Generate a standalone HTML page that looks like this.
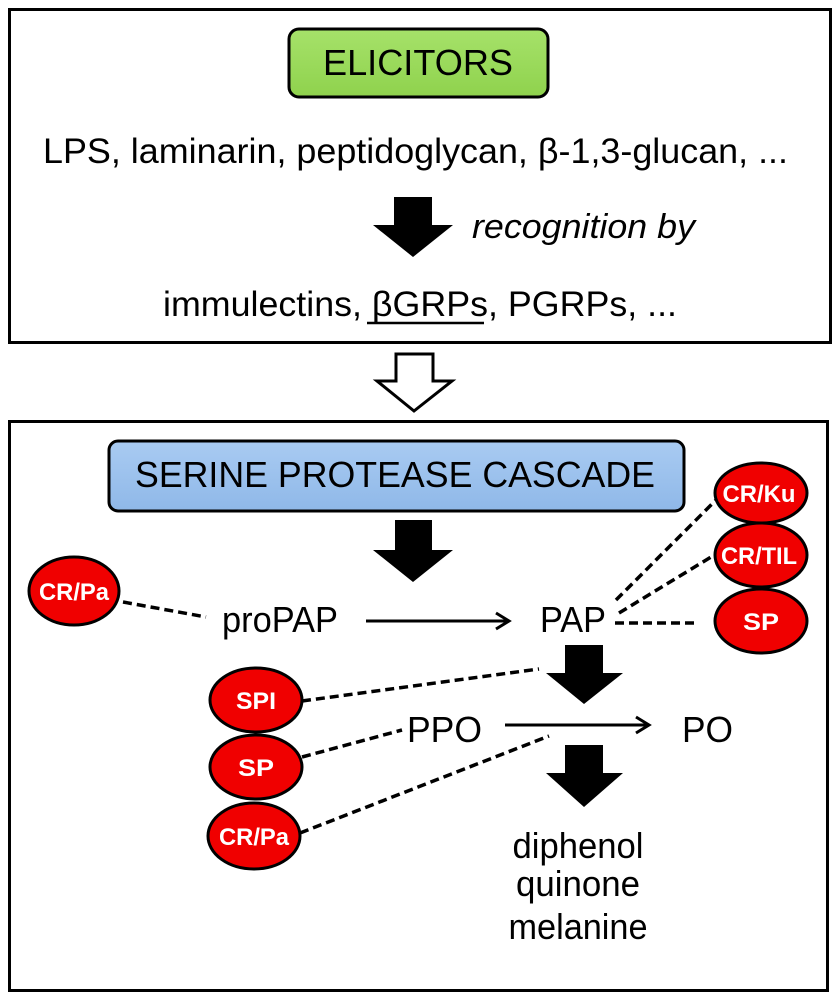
<!DOCTYPE html>
<html><head><meta charset="utf-8"><style>html,body{margin:0;padding:0;background:#fff}svg{display:block}</style></head>
<body>
<svg width="836" height="1000" viewBox="0 0 836 1000" xmlns="http://www.w3.org/2000/svg" font-family="Liberation Sans, Arial, sans-serif">
<defs>
<linearGradient id="g" x1="0" y1="0" x2="0" y2="1"><stop offset="0" stop-color="#a6e26a"/><stop offset="1" stop-color="#8fd24d"/></linearGradient>
<linearGradient id="b" x1="0" y1="0" x2="0" y2="1"><stop offset="0" stop-color="#a9cbf2"/><stop offset="1" stop-color="#8fb8e8"/></linearGradient>
</defs>
<rect x="9.5" y="9.5" width="821" height="333" fill="#fff" stroke="#000" stroke-width="3"/>
<rect x="289" y="29" width="259" height="68" rx="10" fill="url(#g)" stroke="#000" stroke-width="3"/>
<text x="418" y="75" font-size="36" text-anchor="middle" textLength="190" lengthAdjust="spacingAndGlyphs">ELICITORS</text>
<text x="43" y="163" font-size="35" textLength="745" lengthAdjust="spacingAndGlyphs">LPS, laminarin, peptidoglycan,  β-1,3-glucan, ...</text>
<polygon points="394,197 432,197 432,225 453,225 413,257 373,225 394,225" fill="#000"/>
<text x="472" y="238" font-size="34" font-style="italic" textLength="223" lengthAdjust="spacingAndGlyphs">recognition by</text>
<text x="163" y="316" font-size="35" textLength="514" lengthAdjust="spacingAndGlyphs">immulectins, βGRPs, PGRPs, ...</text>
<line x1="367" y1="323" x2="484" y2="323" stroke="#000" stroke-width="2.5"/>
<polygon points="396,354 433,354 433,381 452,381 414,411 377,381 396,381" fill="#fff" stroke="#000" stroke-width="3"/>
<rect x="9.5" y="421.5" width="818" height="569" fill="#fff" stroke="#000" stroke-width="3"/>
<rect x="109" y="441" width="575" height="70" rx="9" fill="url(#b)" stroke="#000" stroke-width="3"/>
<text x="395" y="487" font-size="36" text-anchor="middle" textLength="520" lengthAdjust="spacingAndGlyphs">SERINE PROTEASE CASCADE</text>
<polygon points="395,520 432,520 432,550 453,550 413,582 373,550 395,550" fill="#000"/>
<g stroke="#000" stroke-width="3.5" stroke-dasharray="9,5" fill="none">
<line x1="123" y1="602" x2="206" y2="617"/>
<line x1="616" y1="600" x2="716" y2="500"/>
<line x1="619" y1="613" x2="716" y2="554"/>
<line x1="615" y1="623" x2="697" y2="623"/>
<line x1="302" y1="701" x2="539" y2="669"/>
<line x1="302" y1="757" x2="402" y2="730"/>
<line x1="300" y1="833" x2="549" y2="736"/>
</g>
<g stroke="#000" stroke-width="3" fill="#f00000">
<ellipse cx="74" cy="591" rx="45" ry="34"/>
<ellipse cx="761" cy="493" rx="46" ry="30"/>
<ellipse cx="761" cy="555" rx="46" ry="32"/>
<ellipse cx="761" cy="621" rx="46" ry="32"/>
<ellipse cx="256" cy="700" rx="46" ry="32"/>
<ellipse cx="256" cy="767" rx="46" ry="32"/>
<ellipse cx="254" cy="836" rx="46" ry="33"/>
</g>
<g fill="#fff" font-weight="bold" font-size="24" text-anchor="middle">
<text x="74" y="600" textLength="70" lengthAdjust="spacingAndGlyphs">CR/Pa</text>
<text x="759" y="502" textLength="73" lengthAdjust="spacingAndGlyphs">CR/Ku</text>
<text x="759" y="564" textLength="76" lengthAdjust="spacingAndGlyphs">CR/TIL</text>
<text x="761" y="630" textLength="36" lengthAdjust="spacingAndGlyphs">SP</text>
<text x="256" y="709" textLength="40" lengthAdjust="spacingAndGlyphs">SPI</text>
<text x="256" y="776" textLength="36" lengthAdjust="spacingAndGlyphs">SP</text>
<text x="254" y="845" textLength="70" lengthAdjust="spacingAndGlyphs">CR/Pa</text>
</g>
<g font-size="36">
<text x="222" y="632" textLength="116" lengthAdjust="spacingAndGlyphs">proPAP</text>
<text x="540" y="632" textLength="66" lengthAdjust="spacingAndGlyphs">PAP</text>
<text x="407" y="742" textLength="75" lengthAdjust="spacingAndGlyphs">PPO</text>
<text x="682" y="742" textLength="51" lengthAdjust="spacingAndGlyphs">PO</text>
</g>
<g stroke="#000" stroke-width="3" fill="none">
<line x1="366" y1="621" x2="508" y2="621"/>
<polyline points="496,613 509,621 496,629"/>
<line x1="505" y1="725" x2="648" y2="725"/>
<polyline points="636,717 649,725 636,733"/>
</g>
<polygon points="565,645 603,645 603,673 623,673 584,704 546,673 565,673" fill="#000"/>
<polygon points="565,745 603,745 603,773 623,773 584,807 546,773 565,773" fill="#000"/>
<g font-size="36" text-anchor="middle">
<text x="578" y="858" textLength="131" lengthAdjust="spacingAndGlyphs">diphenol</text>
<text x="578" y="896" textLength="124" lengthAdjust="spacingAndGlyphs">quinone</text>
<text x="578" y="939" textLength="139" lengthAdjust="spacingAndGlyphs">melanine</text>
</g>
</svg>
</body></html>
